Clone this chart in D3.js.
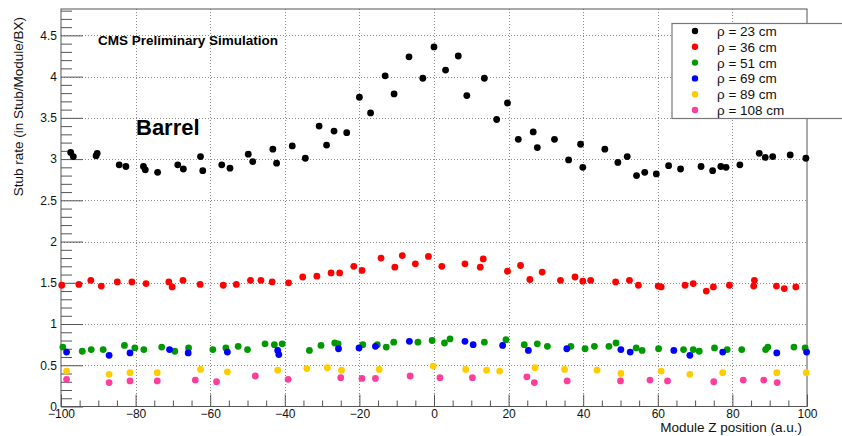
<!DOCTYPE html>
<html>
<head>
<meta charset="utf-8">
<script src="https://cdn.jsdelivr.net/npm/d3@7"></script>
<style>
  body { margin: 0; background: #fff; }
  svg { display: block; font-family: 'Liberation Sans', Arial, Helvetica, sans-serif; }
</style>
</head>
<body>
<div id="chart"></div>
<script>
'use strict'

// rho = 23 cm
var z23 = [-97.4, -96.7, -90.6, -90.3, -84.4, -82.6, -77.9, -77.4, -74.1, -68.7, -67.2, -62.6, -62.0,
  -56.9, -54.7, -49.8, -48.6, -43.2, -42.2, -38.0, -34.5, -30.8, -28.8, -26.8, -23.4, -20.0, -17.0,
  -13.1, -10.7, -6.7, -3.0, 0.0, 3.1, 6.5, 8.8, 13.5, 16.8, 19.7, 22.6, 26.6, 27.7, 32.3, 36.1, 39.3,
  39.9, 45.8, 49.3, 51.8, 54.3, 56.5, 59.6, 62.9, 66.1, 71.6, 74.7, 76.9, 78.3, 82.0, 87.2, 88.8, 90.8,
  95.5, 99.7];
var rate23 = [3.08, 3.03, 3.04, 3.07, 2.93, 2.91, 2.91, 2.87, 2.84, 2.93, 2.88, 3.03, 2.86,
  2.93, 2.89, 3.06, 2.97, 3.12, 2.95, 3.16, 3.01, 3.40, 3.17, 3.34, 3.32, 3.75, 3.56,
  4.01, 3.79, 4.24, 3.98, 4.36, 4.08, 4.25, 3.77, 3.98, 3.48, 3.68, 3.24, 3.33, 3.14, 3.24, 2.99, 3.18,
  2.90, 3.12, 2.96, 3.03, 2.80, 2.84, 2.82, 2.92, 2.88, 2.91, 2.86, 2.91, 2.90, 2.93, 3.07, 3.02, 3.03,
  3.05, 3.01];

// rho = 36 cm
var z36 = [-99.8, -95.2, -92.0, -89.2, -84.9, -81.0, -77.2, -71.1, -70.2, -67.3, -62.7, -56.5, -53.0,
  -49.2, -46.4, -43.4, -39.0, -35.2, -31.4, -27.6, -25.3, -21.5, -19.3, -14.2, -10.5, -8.5, -5.0, -1.5,
  2.1, 8.3, 12.4, 13.2, 19.7, 23.2, 25.7, 29.0, 33.9, 37.8, 39.9, 42.0, 48.7, 52.4, 54.8, 60.1, 60.9,
  67.3, 69.5, 73.0, 74.9, 79.2, 85.7, 85.9, 91.8, 93.9, 97.0];
var rate36 = [1.47, 1.48, 1.53, 1.46, 1.51, 1.51, 1.49, 1.51, 1.45, 1.53, 1.48, 1.47, 1.48,
  1.53, 1.53, 1.51, 1.50, 1.57, 1.58, 1.62, 1.62, 1.70, 1.65, 1.80, 1.69, 1.83, 1.73, 1.82,
  1.70, 1.73, 1.69, 1.79, 1.64, 1.71, 1.54, 1.63, 1.53, 1.57, 1.52, 1.53, 1.51, 1.53, 1.47, 1.46, 1.45,
  1.47, 1.49, 1.40, 1.45, 1.47, 1.46, 1.53, 1.46, 1.43, 1.45];

// rho = 51 cm
var z51 = [-99.5, -94.3, -91.9, -88.7, -83.0, -80.2, -77.8, -73.0, -69.5, -65.8, -59.3, -55.8, -52.5,
  -50.0, -45.3, -42.8, -40.7, -33.4, -30.3, -26.6, -25.7, -19.1, -15.2, -12.8, -10.8, -4.3, -0.5,
  2.8, 4.3, 13.5, 19.3, 24.2, 27.7, 30.4, 36.7, 40.5, 43.0, 46.9, 48.8, 54.2, 55.8, 60.2, 66.9, 69.5,
  71.1, 75.2, 78.6, 82.5, 88.9, 89.5, 96.5, 99.5];
var rate51 = [0.72, 0.67, 0.69, 0.69, 0.74, 0.71, 0.69, 0.72, 0.67, 0.71, 0.69, 0.71, 0.73,
  0.69, 0.76, 0.75, 0.76, 0.68, 0.74, 0.77, 0.76, 0.75, 0.75, 0.72, 0.78, 0.78, 0.80,
  0.77, 0.82, 0.78, 0.81, 0.75, 0.76, 0.73, 0.73, 0.70, 0.73, 0.73, 0.77, 0.71, 0.68, 0.70, 0.69, 0.69,
  0.67, 0.71, 0.69, 0.69, 0.69, 0.72, 0.72, 0.71];

// rho = 69 cm
var z69 = [-98.5, -87.1, -81.5, -70.9, -65.9, -55.4, -41.9, -41.6, -25.6, -20.1, -15.7, -6.6,
  8.3, 10.5, 18.4, 25.3, 35.6, 50.1, 52.6, 64.3, 68.6, 77.4, 91.9, 99.9];
var rate69 = [0.66, 0.62, 0.65, 0.69, 0.65, 0.66, 0.68, 0.63, 0.70, 0.71, 0.73, 0.79,
  0.79, 0.75, 0.74, 0.68, 0.70, 0.69, 0.66, 0.68, 0.62, 0.66, 0.65, 0.66];

// rho = 89 cm
var z89 = [-98.5, -87.1, -81.5, -74.2, -62.6, -55.4, -41.9, -34.1, -28.6, -24.8, -14.7, -0.2,
  8.5, 14.1, 17.6, 27.1, 35.0, 43.7, 50.1, 60.9, 68.6, 77.4, 91.9, 99.8];
var rate89 = [0.43, 0.39, 0.41, 0.41, 0.45, 0.42, 0.44, 0.46, 0.47, 0.44, 0.45, 0.49,
  0.45, 0.44, 0.43, 0.47, 0.45, 0.44, 0.40, 0.43, 0.39, 0.41, 0.41, 0.41];

// rho = 108 cm
var z108 = [-98.5, -87.1, -81.5, -74.2, -64.0, -58.3, -47.9, -39.1, -25.0, -19.3, -15.7, -6.4, 1.6,
  10.3, 24.9, 26.9, 35.7, 50.0, 57.9, 62.6, 75.0, 82.9, 88.4, 92.0];
var rate108 = [0.33, 0.29, 0.31, 0.31, 0.32, 0.30, 0.37, 0.33, 0.35, 0.34, 0.34, 0.37, 0.35,
  0.35, 0.36, 0.29, 0.31, 0.31, 0.32, 0.31, 0.30, 0.32, 0.32, 0.29];

var seriesNames = ['\u03c1 = 23 cm', '\u03c1 = 36 cm', '\u03c1 = 51 cm', '\u03c1 = 69 cm', '\u03c1 = 89 cm', '\u03c1 = 108 cm'];
var seriesColors = ['#000000', '#ff0000', '#009a00', '#0000ff', '#ffcc00', '#ff3d9c'];
var seriesZ = [z23, z36, z51, z69, z89, z108];
var seriesRate = [rate23, rate36, rate51, rate69, rate89, rate108];

var xTicks = [-100, -80, -60, -40, -20, 0, 20, 40, 60, 80, 100];
var yTicks = [0, 0.5, 1, 1.5, 2, 2.5, 3, 3.5, 4, 4.5];

(function() {
  var width = 842, height = 436;
  var frame = { left: 61, right: 807, top: 9, bottom: 406.5 };

  var svg = d3.select('#chart').append('svg')
    .attr('width', width)
    .attr('height', height);

  var x = d3.scaleLinear().domain([-100, 100]).range([frame.left, frame.right]);
  var y = d3.scaleLinear().domain([0, 4.82]).range([frame.bottom, frame.top]);

  // grid
  var grid = svg.append('g').attr('class', 'grid')
    .attr('stroke', '#8a8a8a').attr('stroke-width', 1).attr('stroke-dasharray', '1,2');
  grid.selectAll('line.gx')
    .data(xTicks.filter(function(d) { return d > -100 && d < 100; }))
    .enter().append('line')
    .attr('x1', function(d) { return Math.round(x(d)) + 0.5; })
    .attr('x2', function(d) { return Math.round(x(d)) + 0.5; })
    .attr('y1', frame.top).attr('y2', frame.bottom);
  grid.selectAll('line.gy')
    .data(yTicks.filter(function(d) { return d > 0; }))
    .enter().append('line')
    .attr('y1', function(d) { return Math.round(y(d)) + 0.5; })
    .attr('y2', function(d) { return Math.round(y(d)) + 0.5; })
    .attr('x1', frame.left).attr('x2', frame.right);

  // frame
  svg.append('rect')
    .attr('x', frame.left).attr('y', frame.top)
    .attr('width', frame.right - frame.left).attr('height', frame.bottom - frame.top)
    .attr('fill', 'none').attr('stroke', '#555').attr('stroke-width', 1);

  // axes, ROOT style ticks drawn inside the frame
  var xAxis = d3.axisBottom(x).tickValues(xTicks).tickSize(-12).tickPadding(4)
    .tickFormat(d3.format('d'));
  var gx = svg.append('g').attr('transform', 'translate(0,' + frame.bottom + ')').call(xAxis);
  var xMinor = d3.axisBottom(x).tickValues(d3.range(-95, 100, 5).filter(function(d) { return d % 20 !== 0; }))
    .tickSize(-6).tickFormat('');
  var gxm = svg.append('g').attr('transform', 'translate(0,' + frame.bottom + ')').call(xMinor);

  var yAxis = d3.axisLeft(y).tickValues(yTicks).tickSize(-22).tickPadding(4)
    .tickFormat(function(d) { return d3.format('')(d); });
  var gy = svg.append('g').attr('transform', 'translate(' + frame.left + ',0)').call(yAxis);
  var yMinor = d3.axisLeft(y).tickValues(d3.range(1, 49).map(function(d) { return d / 10; })
      .filter(function(d) { return Math.round(d * 10) % 5 !== 0; }))
    .tickSize(-11).tickFormat('');
  var gym = svg.append('g').attr('transform', 'translate(' + frame.left + ',0)').call(yMinor);

  [gx, gxm, gy, gym].forEach(function(g) {
    g.select('.domain').remove();
    g.selectAll('line').attr('stroke', '#555');
    g.selectAll('text').attr('fill', '#111').style('font-size', '12px')
      .style('font-family', "'Liberation Sans', Arial, sans-serif");
  });
  gx.selectAll('text').attr('y', 3);
  gy.selectAll('text').attr('x', -4);

  // axis titles
  svg.append('text')
    .attr('text-anchor', 'end')
    .attr('x', 802).attr('y', 431.5)
    .style('font-size', '13.5px').attr('fill', '#111')
    .text('Module Z position (a.u.)');

  svg.append('text')
    .attr('text-anchor', 'end')
    .attr('transform', 'translate(23, 17) rotate(-90)')
    .style('font-size', '13.5px').attr('fill', '#111')
    .text('Stub rate (in Stub/Module/BX)');

  // points
  seriesZ.forEach(function(zs, i) {
    var pts = zs.map(function(z, j) { return { z: z, r: seriesRate[i][j] }; });
    svg.append('g').selectAll('circle')
      .data(pts)
      .enter().append('circle')
      .attr('cx', function(d) { return x(d.z); })
      .attr('cy', function(d) { return y(d.r); })
      .attr('r', 3.4)
      .attr('fill', seriesColors[i]);
  });

  // labels
  svg.append('text')
    .attr('x', 98).attr('y', 45)
    .style('font-size', '13.5px').style('font-weight', 'bold')
    .text('CMS Preliminary Simulation');

  svg.append('text')
    .attr('x', 136).attr('y', 135)
    .style('font-size', '22px').style('font-weight', 'bold')
    .text('Barrel');

  // legend
  var legend = svg.append('g');
  legend.append('rect')
    .attr('x', 672).attr('y', 23.5)
    .attr('width', 200).attr('height', 95)
    .attr('fill', '#fff').attr('stroke', '#777').attr('stroke-width', 1.2);

  var rows = legend.selectAll('g.row')
    .data(seriesNames)
    .enter().append('g')
    .attr('transform', function(d, i) { return 'translate(0,' + (31 + i * 15.8) + ')'; });
  rows.append('circle')
    .attr('cx', 695).attr('cy', 0).attr('r', 3.2)
    .attr('fill', function(d, i) { return seriesColors[i]; });
  rows.append('text')
    .attr('x', 717).attr('y', 5)
    .style('font-size', '13.5px').attr('fill', '#111')
    .text(function(d) { return d; });
})();
</script>
</body>
</html>
